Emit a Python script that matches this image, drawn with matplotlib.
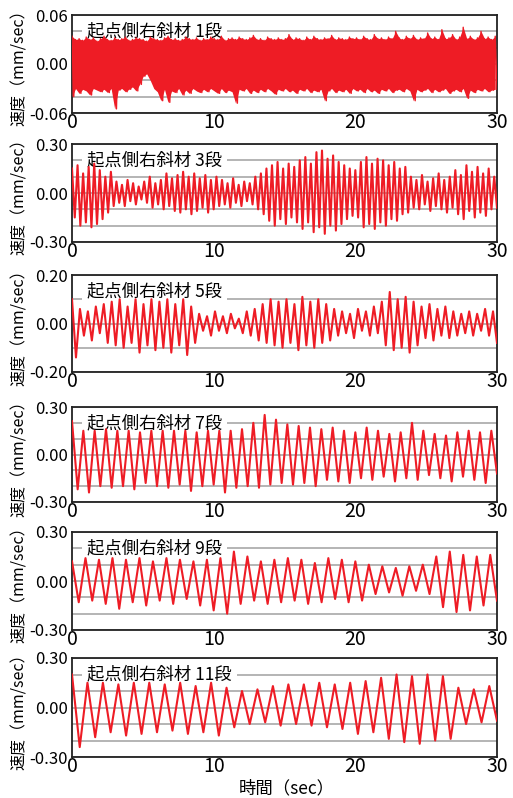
import numpy as np
import matplotlib
matplotlib.use('Agg')
import matplotlib.pyplot as plt

plt.rcParams['font.family'] = ['Noto Sans CJK JP', 'DejaVu Sans']

# 各段の速度波形：読み取った山（peaks）と谷（troughs）の値 [mm/sec]
titles = ['起点側右斜材 1段', '起点側右斜材 3段', '起点側右斜材 5段',
          '起点側右斜材 7段', '起点側右斜材 9段', '起点側右斜材 11段']
ylims = [0.06, 0.30, 0.20, 0.30, 0.30, 0.30]
ysteps = [0.02, 0.10, 0.10, 0.10, 0.10, 0.10]
xticks = [0, 10, 20, 30]

# 1段（0.25秒ごとの上端・下端）
peaks1 = [0.034, 0.030, 0.031, 0.029, 0.033, 0.030, 0.032, 0.028, 0.031, 0.034, 0.030, 0.029, 0.032, 0.030, 0.031, 0.033, 0.029, 0.030, 0.032, 0.031,
          0.030, 0.028, 0.033, 0.031, 0.030, 0.029, 0.032, 0.034, 0.030, 0.031, 0.029, 0.030, 0.033, 0.031, 0.030, 0.032, 0.029, 0.031, 0.030, 0.033,
          0.031, 0.030, 0.034, 0.029, 0.031, 0.032, 0.030, 0.033, 0.031, 0.030, 0.032, 0.035, 0.030, 0.031, 0.029, 0.033, 0.031, 0.030, 0.032, 0.030,
          0.031, 0.036, 0.030, 0.032, 0.031, 0.029, 0.033, 0.030, 0.034, 0.031, 0.030, 0.032, 0.031, 0.035, 0.030, 0.032, 0.031, 0.030, 0.033, 0.031,
          0.032, 0.030, 0.034, 0.031, 0.030, 0.036, 0.031, 0.032, 0.030, 0.033, 0.031, 0.040, 0.032, 0.030, 0.034, 0.031, 0.035, 0.030, 0.032, 0.031,
          0.038, 0.031, 0.033, 0.030, 0.042, 0.031, 0.032, 0.036, 0.030, 0.033, 0.045, 0.031, 0.034, 0.030, 0.032, 0.040, 0.031, 0.033, 0.030, 0.034]
troughs1 = [-0.040, -0.030, -0.036, -0.031, -0.033, -0.038, -0.030, -0.032, -0.034, -0.031, -0.035, -0.030, -0.055, -0.032, -0.030, -0.034, -0.031, -0.028, -0.033, -0.025,
            -0.015, -0.012, -0.020, -0.030, -0.034, -0.045, -0.031, -0.047, -0.033, -0.035, -0.030, -0.038, -0.032, -0.036, -0.030, -0.033, -0.035, -0.031, -0.034, -0.030,
            -0.033, -0.036, -0.030, -0.035, -0.032, -0.034, -0.048, -0.031, -0.033, -0.030, -0.036, -0.032, -0.035, -0.031, -0.034, -0.030, -0.033, -0.037, -0.031, -0.033,
            -0.030, -0.034, -0.032, -0.036, -0.031, -0.033, -0.030, -0.035, -0.032, -0.034, -0.031, -0.045, -0.033, -0.030, -0.035, -0.032, -0.034, -0.031, -0.036, -0.030,
            -0.033, -0.031, -0.035, -0.030, -0.034, -0.032, -0.036, -0.031, -0.033, -0.030, -0.035, -0.032, -0.031, -0.034, -0.030, -0.033, -0.045, -0.031, -0.034, -0.032,
            -0.030, -0.035, -0.031, -0.034, -0.032, -0.030, -0.036, -0.033, -0.031, -0.034, -0.030, -0.042, -0.032, -0.035, -0.031, -0.033, -0.030, -0.034, -0.032, -0.031]

# 3段
peaks3 = [0.15, 0.17, 0.12, 0.16, 0.18, 0.14, 0.10, 0.13,
          0.07, 0.05, 0.08, 0.06, 0.04, 0.07, 0.10, 0.06, 0.08, 0.12, 0.09,
          0.11, 0.13, 0.10, 0.12, 0.09, 0.11, 0.08, 0.10,
          0.08, 0.06, 0.09, 0.05, 0.07, 0.06, 0.10, 0.12,
          0.15, 0.17, 0.19, 0.15, 0.18, 0.16,
          0.20, 0.22, 0.18, 0.25, 0.26, 0.21, 0.23, 0.19, 0.17, 0.15,
          0.14, 0.19, 0.22, 0.18, 0.21, 0.20, 0.17, 0.19, 0.15, 0.16,
          0.10, 0.08, 0.11, 0.07, 0.09, 0.12, 0.08, 0.10,
          0.14, 0.11, 0.17, 0.13, 0.16, 0.12, 0.15, 0.10]
troughs3 = [-0.15, -0.20, -0.18, -0.21, -0.19, -0.16, -0.12, -0.08,
            -0.06, -0.08, -0.05, -0.07, -0.04, -0.06, -0.09, -0.07, -0.10, -0.08, -0.11,
            -0.12, -0.10, -0.13, -0.11, -0.09, -0.12, -0.10, -0.08,
            -0.07, -0.09, -0.06, -0.08, -0.05, -0.07, -0.10, -0.13,
            -0.17, -0.20, -0.16, -0.19, -0.15, -0.18,
            -0.22, -0.18, -0.24, -0.21, -0.25, -0.20, -0.23, -0.19, -0.16, -0.14,
            -0.15, -0.21, -0.19, -0.22, -0.18, -0.20, -0.16, -0.17, -0.13, -0.12,
            -0.09, -0.10, -0.07, -0.11, -0.08, -0.10, -0.12, -0.09,
            -0.13, -0.16, -0.11, -0.15, -0.12, -0.14, -0.10, -0.09]

# 5段
peaks5 = [0.10, 0.06, 0.05, 0.07, 0.08,
          0.09, 0.10, 0.07, 0.10, 0.08, 0.10, 0.09, 0.10, 0.08, 0.10, 0.07,
          0.04, 0.03, 0.05, 0.03, 0.04, 0.02, 0.05, 0.06, 0.08,
          0.10, 0.09, 0.10, 0.08, 0.11, 0.09, 0.10, 0.08, 0.06,
          0.05, 0.04, 0.06, 0.05, 0.07,
          0.09, 0.13, 0.10, 0.11, 0.09,
          0.07, 0.08, 0.06, 0.07, 0.05,
          0.04, 0.05, 0.04, 0.06, 0.05]
troughs5 = [-0.14, -0.05, -0.07, -0.04, -0.08,
            -0.09, -0.10, -0.08, -0.12, -0.09, -0.11, -0.10, -0.12, -0.09, -0.13, -0.08,
            -0.03, -0.05, -0.03, -0.04, -0.02, -0.04, -0.05, -0.07, -0.08,
            -0.09, -0.10, -0.08, -0.11, -0.09, -0.10, -0.08, -0.07, -0.05,
            -0.04, -0.06, -0.03, -0.05, -0.04,
            -0.09, -0.11, -0.10, -0.12, -0.09,
            -0.06, -0.07, -0.05, -0.06, -0.05,
            -0.04, -0.05, -0.03, -0.05, -0.08]

# 7段
peaks7 = [0.21, 0.15, 0.15, 0.16, 0.15, 0.15, 0.14, 0.15, 0.15, 0.15, 0.15, 0.14, 0.15, 0.15, 0.15, 0.16,
          0.20, 0.25, 0.22,
          0.19, 0.18, 0.17, 0.16, 0.17, 0.15, 0.14, 0.17, 0.15, 0.13, 0.14, 0.20, 0.15, 0.13, 0.12, 0.14, 0.15, 0.14, 0.15]
troughs7 = [-0.22, -0.24, -0.20, -0.21, -0.20, -0.22, -0.18, -0.20, -0.21, -0.19, -0.23, -0.20, -0.19, -0.24, -0.21, -0.20,
            -0.21, -0.19, -0.18,
            -0.19, -0.18, -0.20, -0.16, -0.17, -0.18, -0.15, -0.16, -0.14, -0.17, -0.15, -0.16, -0.13, -0.15, -0.17, -0.14, -0.16, -0.18, -0.12]

# 9段
peaks9 = [0.12, 0.14, 0.13, 0.14, 0.13, 0.14, 0.12, 0.14, 0.13, 0.12, 0.13, 0.14, 0.18,
          0.15, 0.12, 0.13, 0.14, 0.13, 0.11, 0.14, 0.13, 0.12,
          0.10, 0.09, 0.08, 0.09, 0.10,
          0.15, 0.18, 0.16, 0.15, 0.16]
troughs9 = [-0.13, -0.12, -0.14, -0.17, -0.13, -0.15, -0.12, -0.14, -0.11, -0.15, -0.18, -0.20, -0.14,
            -0.12, -0.14, -0.13, -0.12, -0.14, -0.13, -0.11, -0.13, -0.12,
            -0.08, -0.07, -0.09, -0.06, -0.08,
            -0.16, -0.19, -0.18, -0.15, -0.12]

# 11段
peaks11 = [0.20, 0.15, 0.15, 0.14, 0.15, 0.15, 0.14, 0.15, 0.13, 0.15,
           0.12, 0.10, 0.11, 0.13, 0.14,
           0.14, 0.15, 0.14, 0.15, 0.16,
           0.18, 0.20, 0.19, 0.20, 0.19,
           0.12, 0.11, 0.13]
troughs11 = [-0.24, -0.18, -0.15, -0.17, -0.16, -0.15, -0.14, -0.16, -0.15, -0.17,
             -0.12, -0.10, -0.09, -0.11, -0.10,
             -0.11, -0.12, -0.13, -0.16, -0.15,
             -0.19, -0.21, -0.22, -0.20, -0.19,
             -0.10, -0.09, -0.08]

series = [(peaks1, troughs1), (peaks3, troughs3), (peaks5, troughs5),
          (peaks7, troughs7), (peaks9, troughs9), (peaks11, troughs11)]

# 図の配置（ピクセル）
W, H = 513, 798
tops = [15, 144, 275, 407, 532, 658]
bottoms = [113, 242, 372, 502, 630, 757]
left, right = 72, 497
red = '#ee1c25'

fig = plt.figure(figsize=(W / 100, H / 100), dpi=100)

for i, (pk, tr) in enumerate(series):
    ax = fig.add_axes([left / W, 1 - bottoms[i] / H, (right - left) / W, (bottoms[i] - tops[i]) / H])
    # 山と谷を交互に並べる
    vals = np.empty(2 * len(pk))
    vals[0::2] = pk
    vals[1::2] = tr
    t = np.linspace(0, 30, len(vals))
    if i == 0:
        # 1段は帯状にほぼ塗りつぶされている
        ax.fill_between(t[0::2], pk, tr, color=red, lw=0, zorder=3)
        ax.plot(t, vals, color=red, lw=1.0, zorder=3)
    else:
        ax.plot(t, vals, color=red, lw=1.5, zorder=3)

    lim = ylims[i]
    ax.set_xlim(0, 30)
    ax.set_ylim(-lim, lim)
    ax.set_yticks([-lim, 0, lim])
    ax.set_yticklabels(['%.2f' % -lim, '0.00', '%.2f' % lim], fontsize=12)
    ax.set_yticks(np.arange(-lim, lim + 1e-9, ysteps[i]), minor=True)
    ax.yaxis.grid(True, which='both', color='#a8a8a8', lw=1.2, zorder=0)
    ax.set_axisbelow(True)
    ax.set_xticks(xticks)
    ax.set_xticklabels([str(x) for x in xticks], fontsize=14)
    ax.tick_params(axis='both', which='both', length=0)
    ax.tick_params(axis='x', pad=-1)
    ax.tick_params(axis='y', pad=3)
    for s in ax.spines.values():
        s.set_linewidth(1.3)
        s.set_color('#222222')
    ax.set_ylabel('速度（mm/sec）', fontsize=11.5, labelpad=1)
    ax.text(0.035, 0.83, titles[i], transform=ax.transAxes, fontsize=12.5,
            ha='left', va='center', zorder=2,
            bbox=dict(boxstyle='square,pad=0.3', fc='white', ec='none'))

fig.text(287 / W, 1 - 788 / H, '時間（sec）', fontsize=12.5, ha='center', va='center')

fig.savefig('out.png', dpi=100)
